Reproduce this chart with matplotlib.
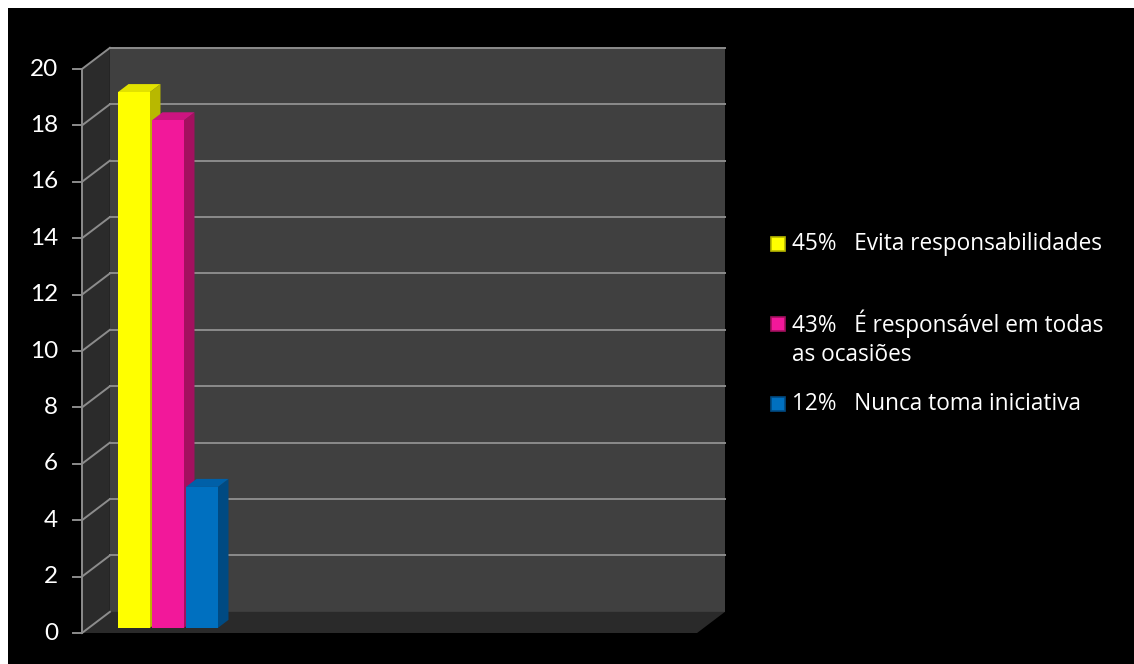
import matplotlib.pyplot as plt
from matplotlib.patches import Polygon, Rectangle

plt.rcParams['font.family'] = ['Lato', 'DejaVu Sans']

# dados das respostas
values = [19, 18, 5]
shares = [45, 43, 12]
labels = ['Evita responsabilidades', 'É responsável em todas\nas ocasiões', 'Nunca toma iniciativa']
y_ticks = list(range(0, 21, 2))

front_colors = ['#FFFF00', '#F2189A', '#0070C0']
side_colors = ['#B8B800', '#A3105F', '#004A82']
top_colors = ['#E2E200', '#CC1480', '#0060A8']

# projeção oblíqua simples (profundidade z de 0 a 1)
DX, DY = 0.82, 0.75
WALL_W = 18.09
Y_MAX = 20


def proj(x, y, z):
    return (x + z * DX, y + z * DY)


fig = plt.figure(figsize=(11.34, 6.64), dpi=100, facecolor='white')
ax = fig.add_axes([8 / 1134, 0, 1126 / 1134, 656 / 664])
ax.set_facecolor('black')
ax.set_xlim(-74 / 34, (1126 - 74) / 34)
ax.set_ylim(-31 / 28.2, (656 - 31) / 28.2)
for s in ax.spines.values():
    s.set_visible(False)
ax.set_xticks([])
ax.set_yticks([])

grid_c = '#8C8C8C'

# paredes e piso
ax.add_patch(Polygon([proj(0, 0, 0), proj(0, 0, 1), proj(0, Y_MAX, 1), proj(0, Y_MAX, 0)],
                     closed=True, facecolor='#2B2B2B', edgecolor='none', zorder=1))
ax.add_patch(Polygon([proj(0, 0, 1), proj(WALL_W, 0, 1), proj(WALL_W, Y_MAX, 1), proj(0, Y_MAX, 1)],
                     closed=True, facecolor='#404040', edgecolor='none', zorder=1))
ax.add_patch(Polygon([proj(0, 0, 0), proj(WALL_W, 0, 0), proj(WALL_W, 0, 1), proj(0, 0, 1)],
                     closed=True, facecolor='#2A2A2A', edgecolor='none', zorder=2))

# linhas de grade
for v in y_ticks:
    p0, p1 = proj(0, v, 0), proj(0, v, 1)
    ax.plot([p0[0], p1[0]], [p0[1], p1[1]], color=grid_c, lw=1.4, zorder=3)
    if v > 0:
        p2 = proj(WALL_W, v, 1)
        ax.plot([p1[0], p2[0]], [p1[1], p2[1]], color=grid_c, lw=1.4, zorder=3)

# eixo vertical com marcas e rótulos
ax.plot([0, 0], [0, Y_MAX], color=grid_c, lw=1.4, zorder=4)
for v in y_ticks:
    ax.plot([-9 / 34, 0], [v, v], color=grid_c, lw=1.4, zorder=4)
    ax.text(-24 / 34, v, str(v), ha='right', va='center', color='white', fontsize=17.5, zorder=4)

# colunas 3D
z0, z1 = 0.24, 0.62
for i, h in enumerate(values):
    x0 = 0.86 + i
    x1 = x0 + 0.94
    zo = 10 + i * 3
    side = [proj(x1, 0, z0), proj(x1, 0, z1), proj(x1, h, z1), proj(x1, h, z0)]
    top = [proj(x0, h, z0), proj(x1, h, z0), proj(x1, h, z1), proj(x0, h, z1)]
    front = [proj(x0, 0, z0), proj(x1, 0, z0), proj(x1, h, z0), proj(x0, h, z0)]
    ax.add_patch(Polygon(side, closed=True, facecolor=side_colors[i], edgecolor='none', zorder=zo))
    ax.add_patch(Polygon(top, closed=True, facecolor=top_colors[i], edgecolor='none', zorder=zo + 1))
    ax.add_patch(Polygon(front, closed=True, facecolor=front_colors[i], edgecolor='none', zorder=zo + 2))

# legenda
leg_font = ['Open Sans', 'DejaVu Sans']
leg_y = [244, 324, 404]
for i, (pct, name) in enumerate(zip(shares, labels)):
    cy = leg_y[i]
    fig.patches.append(Rectangle((771 / 1134, 1 - (cy + 7) / 664), 14 / 1134, 14 / 664,
                                 transform=fig.transFigure, facecolor=front_colors[i],
                                 edgecolor=side_colors[i], lw=1.2))
    lines = name.split('\n')
    fig.text(792 / 1134, 1 - cy / 664, f'{pct}%   {lines[0]}', color='white',
             fontsize=16.3, ha='left', va='center', family=leg_font)
    for k, extra in enumerate(lines[1:], start=1):
        fig.text(792 / 1134, 1 - (cy + 31 * k) / 664, extra, color='white',
                 fontsize=16.3, ha='left', va='center', family=leg_font)

fig.savefig('out.png', dpi=100, facecolor=fig.get_facecolor())
